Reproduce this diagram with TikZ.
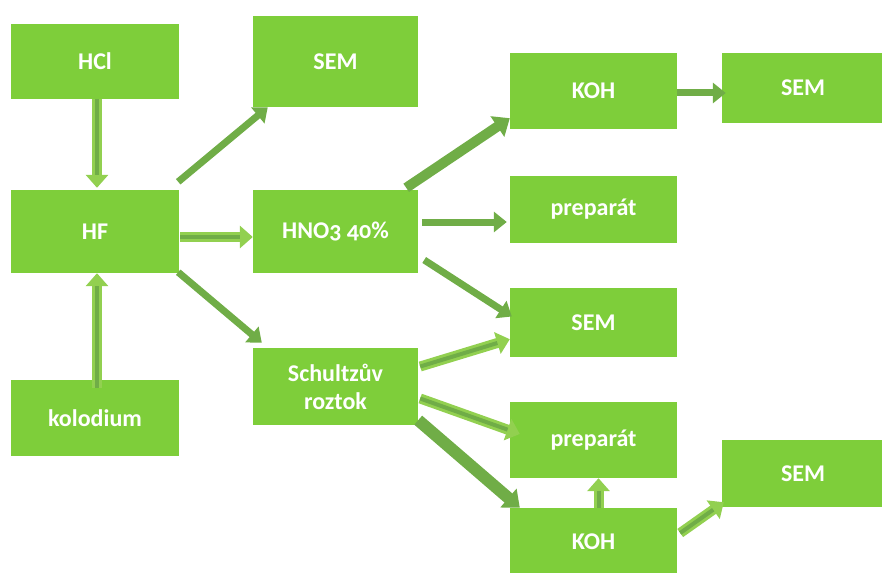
\documentclass[tikz,border=0pt]{standalone}
\usepackage{fontspec}
\setmainfont{Carlito}[Numbers=OldStyle]
\usetikzlibrary{arrows.meta,calc}
\definecolor{boxgreen}{RGB}{126,206,58}
\definecolor{arrdark}{RGB}{112,173,71}
\definecolor{arrlight}{RGB}{146,208,80}
\tikzset{
  box/.style={rectangle, fill=boxgreen, inner sep=0pt, text=white,
    font=\fontsize{24}{28}\selectfont\bfseries, align=center},
  solidarr/.style={draw=arrdark, line width=7pt, -{Triangle[length=13pt,width=20pt]}},
  thickarr/.style={draw=arrdark, line width=10pt, -{Triangle[length=15pt,width=24pt]}},
  lightarr/.style={draw=arrlight, line width=10pt, -{Triangle[length=13pt,width=22pt]}},
  darkcore/.style={draw=arrdark, line width=4pt, shorten >=13pt},
}
\newcommand\dblarr[2]{\draw[lightarr] #1 -- #2; \draw[darkcore] #1 -- #2;}
\begin{document}
\begin{tikzpicture}[x=1pt,y=-1pt]
\useasboundingbox (0,0) rectangle (882,572);
\clip (0,0) rectangle (882,572);
\node[box, minimum width=168pt, minimum height=75pt] (hcl) at (95,61.5) {HCl};
\node[box, minimum width=165pt, minimum height=91pt] (sem1) at (335.5,61.5) {SEM};
\node[box, minimum width=168pt, minimum height=83pt] (hf) at (95,231.5) {HF};
\node[box, minimum width=165pt, minimum height=83pt] (hno) at (335.5,231.5) {HNO3 40\%};
\node[box, minimum width=168pt, minimum height=76pt] (kol) at (95,418) {kolodium};
\node[box, minimum width=165pt, minimum height=77pt] (sch) at (335.5,386.5) {Schultzův\\roztok};
\node[box, minimum width=167pt, minimum height=76pt] (koh1) at (593.5,91) {KOH};
\node[box, minimum width=167pt, minimum height=67pt] (prep1) at (593.5,209.5) {preparát};
\node[box, minimum width=162pt, minimum height=70pt] (sem2) at (803,88) {SEM};
\node[box, minimum width=167pt, minimum height=69pt] (sem3) at (593.5,322.5) {SEM};
\node[box, minimum width=167pt, minimum height=76pt] (prep2) at (593.5,440) {preparát};
\node[box, minimum width=167pt, minimum height=68pt] (koh2) at (593.5,542) {KOH};
\node[box, minimum width=162pt, minimum height=67pt] (sem4) at (803,473.5) {SEM};
% connectors
\dblarr{([shift={(2,0)}]hcl.south)}{([shift={(2,-2)}]hf.north)}
\dblarr{([shift={(2,8)}]kol.north)}{([shift={(2,0)}]hf.south)}
\dblarr{([shift={(1,5.5)}]hf.east)}{([shift={(0,5.5)}]hno.west)}
\draw[solidarr] ([shift={(-1,-8)}]hf.north east) -- ([shift={(15,0)}]sem1.south west);
\draw[solidarr] ([shift={(-1,-1)}]hf.south east) -- ([shift={(9,-5)}]sch.north west);
\draw[thickarr] ([shift={(-12,-2)}]hno.north east) -- ([shift={(0,-11)}]koh1.south west);
\draw[solidarr] ([shift={(4,-9.5)}]hno.east) -- ([shift={(-3,12.5)}]prep1.west);
\draw[solidarr] ([shift={(6,28.5)}]hno.east) -- ([shift={(2,-6)}]sem3.west);
\draw[solidarr] ([shift={(0,2)}]koh1.east) -- ([shift={(4,5)}]sem2.west);
\dblarr{([shift={(2,-20)}]sch.east)}{([shift={(0,-18)}]sem3.south west)}
\dblarr{([shift={(2,12)}]sch.east)}{([shift={(10,-6)}]prep2.west)}
\draw[thickarr, line width=12pt] ([shift={(0,-5)}]sch.south east) -- ([shift={(10,0)}]koh2.north west);
\dblarr{([shift={(5,0)}]koh2.north)}{([shift={(5,0)}]prep2.south)}
\dblarr{([shift={(3,-9)}]koh2.east)}{([shift={(2,-5)}]sem4.south west)}
\end{tikzpicture}
\end{document}
